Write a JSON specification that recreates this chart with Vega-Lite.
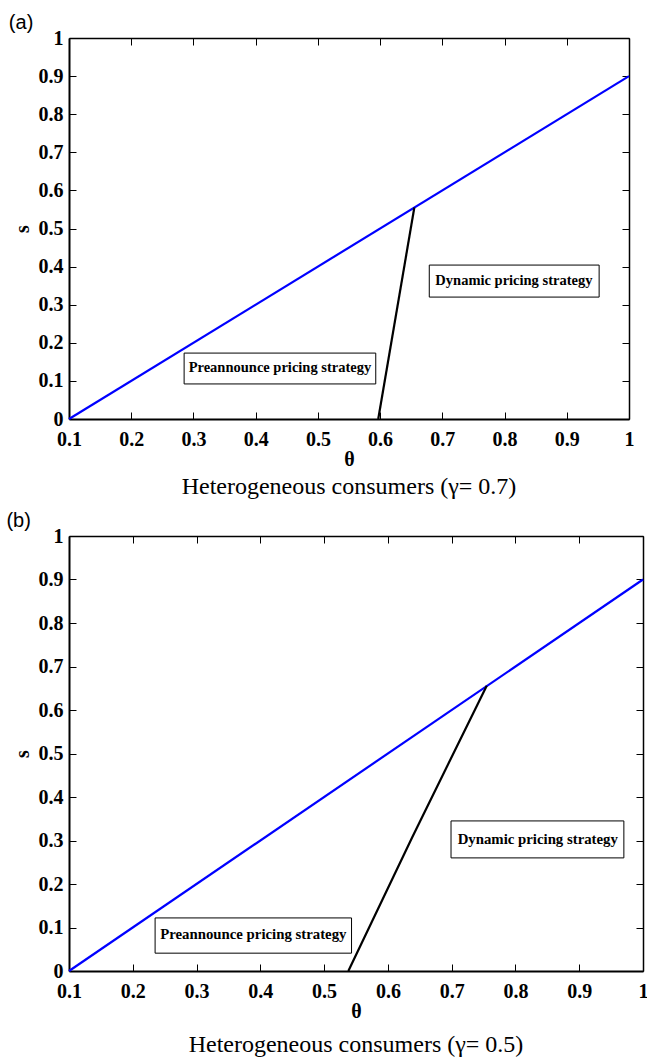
{
  "$schema": "https://vega.github.io/schema/vega-lite/v6.json",
  "padding": {"left": 6, "top": 12, "right": 0, "bottom": 0},
  "spacing": 12,
  "config": {
    "view": {"stroke": null},
    "font": "Liberation Serif",
    "axis": {
      "grid": false,
      "domainColor": "#000000",
      "domainWidth": 2,
      "tickColor": "#000000",
      "tickWidth": 1,
      "tickSize": -7,
      "labelFont": "Liberation Serif",
      "labelFontWeight": "bold",
      "labelFontSize": 20,
      "labelColor": "#000000",
      "labelPadding": 13,
      "titleFont": "Liberation Serif",
      "titleFontWeight": "bold",
      "titleFontSize": 20,
      "titleColor": "#000000"
    }
  },
  "datasets": {
    "curves": [
      {"panel": "a", "series": "boundary", "theta": 0.1, "s": 0},
      {"panel": "a", "series": "boundary", "theta": 1.0, "s": 0.9},
      {"panel": "a", "series": "threshold", "theta": 0.597, "s": 0},
      {"panel": "a", "series": "threshold", "theta": 0.655, "s": 0.555},
      {"panel": "b", "series": "boundary", "theta": 0.1, "s": 0},
      {"panel": "b", "series": "boundary", "theta": 1.0, "s": 0.9},
      {"panel": "b", "series": "threshold", "theta": 0.538, "s": 0},
      {"panel": "b", "series": "threshold", "theta": 0.638, "s": 0.307},
      {"panel": "b", "series": "threshold", "theta": 0.755, "s": 0.656}
    ],
    "notes": [
      {"panel": "a", "label": "Preannounce pricing strategy", "theta": 0.439, "s": 0.1326, "theta_lo": 0.285, "theta_hi": 0.593, "s_lo": 0.092, "s_hi": 0.173},
      {"panel": "a", "label": "Dynamic pricing strategy", "theta": 0.815, "s": 0.362, "theta_lo": 0.679, "theta_hi": 0.952, "s_lo": 0.320, "s_hi": 0.404},
      {"panel": "b", "label": "Preannounce pricing strategy", "theta": 0.389, "s": 0.082, "theta_lo": 0.235, "theta_hi": 0.543, "s_lo": 0.041, "s_hi": 0.122},
      {"panel": "b", "label": "Dynamic pricing strategy", "theta": 0.835, "s": 0.302, "theta_lo": 0.699, "theta_hi": 0.970, "s_lo": 0.260, "s_hi": 0.345}
    ],
    "tags": [
      {"panel": "a", "label": "(a)", "theta": 0.023, "s": 1.04},
      {"panel": "b", "label": "(b)", "theta": 0.021, "s": 1.034}
    ]
  },
  "vconcat": [
    {
      "width": 560,
      "height": 381,
      "title": {"text": "Heterogeneous consumers (γ= 0.7)", "orient": "bottom", "anchor": "middle", "frame": "group", "font": "Liberation Serif", "fontSize": 24, "fontWeight": "normal", "color": "#000000", "offset": 6},
      "resolve": {"axis": {"x": "independent", "y": "independent"}},
      "layer": [
        {
          "data": {"name": "curves"},
          "transform": [{"filter": "datum.panel === 'a'"}],
          "mark": {"type": "line", "strokeWidth": 2.2},
          "encoding": {
            "x": {"field": "theta", "type": "quantitative", "scale": {"domain": [0.1, 1], "nice": false, "zero": false},
                  "axis": {"orient": "bottom", "title": "θ", "values": [0.1,0.2,0.3,0.4,0.5,0.6,0.7,0.8,0.9,1], "format": ".1~f", "labelPadding": 17, "titlePadding": 0, "labelFlush": false}},
            "y": {"field": "s", "type": "quantitative", "scale": {"domain": [0, 1], "nice": false},
                  "axis": {"orient": "left", "title": "s", "values": [0,0.1,0.2,0.3,0.4,0.5,0.6,0.7,0.8,0.9,1], "format": ".1~f", "titlePadding": 6, "labelFlush": false}},
            "color": {"field": "series", "type": "nominal", "scale": {"domain": ["boundary", "threshold"], "range": ["#0000ff", "#000000"]}, "legend": null}
          }
        },
        {
          "data": {"name": "notes"},
          "transform": [{"filter": "datum.panel === 'a'"}],
          "mark": {"type": "rect", "fill": "#ffffff", "stroke": "#000000", "strokeWidth": 1},
          "encoding": {
            "x": {"field": "theta_lo", "type": "quantitative", "scale": {"domain": [0.1, 1], "nice": false, "zero": false},
                  "axis": {"orient": "top", "title": null, "labels": false, "values": [0.1,0.2,0.3,0.4,0.5,0.6,0.7,0.8,0.9,1], "domainWidth": 1.5}},
            "x2": {"field": "theta_hi"},
            "y": {"field": "s_lo", "type": "quantitative", "scale": {"domain": [0, 1], "nice": false},
                  "axis": {"orient": "right", "title": null, "labels": false, "values": [0,0.1,0.2,0.3,0.4,0.5,0.6,0.7,0.8,0.9,1], "domainWidth": 1.5}},
            "y2": {"field": "s_hi"}
          }
        },
        {
          "data": {"name": "notes"},
          "transform": [{"filter": "datum.panel === 'a'"}],
          "mark": {"type": "text", "font": "Liberation Serif", "fontWeight": "bold", "fontSize": 14.5, "color": "#000000", "align": "center", "baseline": "middle"},
          "encoding": {
            "x": {"field": "theta", "type": "quantitative", "axis": null},
            "y": {"field": "s", "type": "quantitative", "axis": null},
            "text": {"field": "label"}
          }
        },
        {
          "data": {"name": "tags"},
          "transform": [{"filter": "datum.panel === 'a'"}],
          "mark": {"type": "text", "font": "Liberation Sans", "fontSize": 20, "color": "#000000", "align": "center", "baseline": "middle"},
          "encoding": {
            "x": {"field": "theta", "type": "quantitative", "axis": null},
            "y": {"field": "s", "type": "quantitative", "axis": null},
            "text": {"field": "label"}
          }
        }
      ]
    },
    {
      "width": 574,
      "height": 435,
      "title": {"text": "Heterogeneous consumers (γ= 0.5)", "orient": "bottom", "anchor": "middle", "frame": "group", "font": "Liberation Serif", "fontSize": 24, "fontWeight": "normal", "color": "#000000", "offset": 12},
      "resolve": {"axis": {"x": "independent", "y": "independent"}},
      "layer": [
        {
          "data": {"name": "curves"},
          "transform": [{"filter": "datum.panel === 'b'"}],
          "mark": {"type": "line", "strokeWidth": 2.2},
          "encoding": {
            "x": {"field": "theta", "type": "quantitative", "scale": {"domain": [0.1, 1], "nice": false, "zero": false},
                  "axis": {"orient": "bottom", "title": "θ", "values": [0.1,0.2,0.3,0.4,0.5,0.6,0.7,0.8,0.9,1], "format": ".1~f", "labelPadding": 17, "titlePadding": 0, "labelFlush": false}},
            "y": {"field": "s", "type": "quantitative", "scale": {"domain": [0, 1], "nice": false},
                  "axis": {"orient": "left", "title": "s", "values": [0,0.1,0.2,0.3,0.4,0.5,0.6,0.7,0.8,0.9,1], "format": ".1~f", "titlePadding": 6, "labelFlush": false}},
            "color": {"field": "series", "type": "nominal", "scale": {"domain": ["boundary", "threshold"], "range": ["#0000ff", "#000000"]}, "legend": null}
          }
        },
        {
          "data": {"name": "notes"},
          "transform": [{"filter": "datum.panel === 'b'"}],
          "mark": {"type": "rect", "fill": "#ffffff", "stroke": "#000000", "strokeWidth": 1},
          "encoding": {
            "x": {"field": "theta_lo", "type": "quantitative", "scale": {"domain": [0.1, 1], "nice": false, "zero": false},
                  "axis": {"orient": "top", "title": null, "labels": false, "values": [0.1,0.2,0.3,0.4,0.5,0.6,0.7,0.8,0.9,1], "domainWidth": 1.5}},
            "x2": {"field": "theta_hi"},
            "y": {"field": "s_lo", "type": "quantitative", "scale": {"domain": [0, 1], "nice": false},
                  "axis": {"orient": "right", "title": null, "labels": false, "values": [0,0.1,0.2,0.3,0.4,0.5,0.6,0.7,0.8,0.9,1], "domainWidth": 1.5}},
            "y2": {"field": "s_hi"}
          }
        },
        {
          "data": {"name": "notes"},
          "transform": [{"filter": "datum.panel === 'b'"}],
          "mark": {"type": "text", "font": "Liberation Serif", "fontWeight": "bold", "fontSize": 14.8, "color": "#000000", "align": "center", "baseline": "middle"},
          "encoding": {
            "x": {"field": "theta", "type": "quantitative", "axis": null},
            "y": {"field": "s", "type": "quantitative", "axis": null},
            "text": {"field": "label"}
          }
        },
        {
          "data": {"name": "tags"},
          "transform": [{"filter": "datum.panel === 'b'"}],
          "mark": {"type": "text", "font": "Liberation Sans", "fontSize": 20, "color": "#000000", "align": "center", "baseline": "middle"},
          "encoding": {
            "x": {"field": "theta", "type": "quantitative", "axis": null},
            "y": {"field": "s", "type": "quantitative", "axis": null},
            "text": {"field": "label"}
          }
        }
      ]
    }
  ]
}
